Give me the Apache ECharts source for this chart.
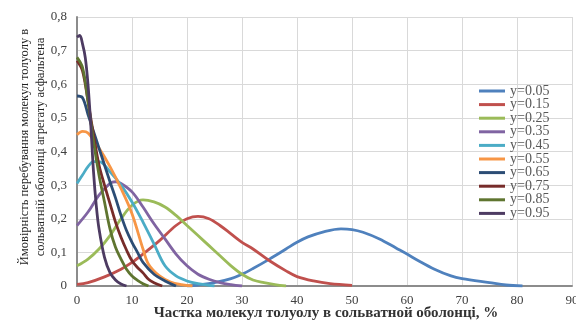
<!DOCTYPE html>
<html>
<head>
<meta charset="utf-8">
<script src="https://cdn.jsdelivr.net/npm/echarts@6/dist/echarts.min.js"></script>
<style>
html,body{margin:0;padding:0;background:#fff;}
#chart{width:576px;height:322px;}
</style>
</head>
<body>
<div id="chart"></div>
<script>
// Legend / series names
const seriesNames = ['y=0.05','y=0.15','y=0.25','y=0.35','y=0.45','y=0.55','y=0.65','y=0.75','y=0.85','y=0.95'];
const seriesColors = ['#4F81BD','#C0504D','#9BBB59','#8064A2','#4BACC6','#F79646','#2C4D75','#772C2A','#5F7530','#4D3B62'];

// x = share of toluene molecules (%), p = probability
const x005 = [20,22,25,28,30,32,35,38,40,42,45,48,50,52,55,58,60,62,65,68,70,75,78,81];
const p005 = [0,0.003,0.01,0.022,0.035,0.052,0.08,0.11,0.13,0.146,0.162,0.17,0.168,0.16,0.14,0.113,0.095,0.076,0.05,0.03,0.022,0.01,0.003,0];

const x015 = [0,2,5,8,10,12,15,18,20,22,24,26,28,30,32,35,38,40,43,46,50];
const p015 = [0.005,0.01,0.027,0.05,0.07,0.095,0.135,0.18,0.2,0.207,0.2,0.18,0.155,0.13,0.11,0.075,0.045,0.028,0.015,0.007,0.002];

const x025 = [0,2,4,6,8,10,12,14,16,18,20,22,24,26,28,30,32,34,36,38];
const p025 = [0.06,0.08,0.11,0.15,0.2,0.24,0.256,0.25,0.235,0.21,0.18,0.15,0.12,0.09,0.06,0.035,0.018,0.01,0.004,0];

const x035 = [0,2,4,6,7,8,10,12,14,16,18,20,22,24,26,28,30];
const p035 = [0.18,0.22,0.27,0.305,0.31,0.305,0.28,0.235,0.185,0.14,0.095,0.06,0.035,0.02,0.01,0.004,0];

const x045 = [0,1,2,3,4,6,8,10,12,14,16,18,20,22,25];
const p045 = [0.305,0.33,0.355,0.37,0.37,0.34,0.3,0.25,0.19,0.125,0.06,0.03,0.015,0.007,0];

const x055 = [0,1,2,4,6,8,10,12,13,15,17,19,21];
const p055 = [0.45,0.46,0.455,0.41,0.355,0.29,0.215,0.11,0.065,0.03,0.012,0.004,0];

const x065 = [0,1,2,3,4,5,6,7,8,9,10,11,12,14,16,18];
const p065 = [0.565,0.56,0.51,0.46,0.41,0.36,0.31,0.262,0.21,0.165,0.13,0.1,0.07,0.035,0.015,0];

const x075 = [0,1,2,3,4,5,6,7,8,9,10,11,12,13,14,15.5];
const p075 = [0.67,0.64,0.55,0.45,0.36,0.3,0.245,0.19,0.145,0.107,0.075,0.055,0.039,0.02,0.01,0];

const x085 = [0,1,2,3,4,5,6,7,8,9,10,11,12,13];
const p085 = [0.68,0.65,0.55,0.43,0.33,0.25,0.17,0.115,0.08,0.05,0.03,0.017,0.007,0];

const x095 = [0,0.5,1,1.5,2,2.5,3,3.5,4,5,6,7,8,9];
const p095 = [0.74,0.745,0.72,0.68,0.6,0.48,0.34,0.24,0.17,0.085,0.04,0.018,0.006,0];

const xList = [x005,x015,x025,x035,x045,x055,x065,x075,x085,x095];
const pList = [p005,p015,p025,p035,p045,p055,p065,p075,p085,p095];

const xTitle = 'Частка молекул толуолу в сольватной оболонці, %';
const yTitle = 'Ймовірність перебування молекул толуолу в\nсольватній оболонці агрегату асфальтена';

const serif = 'Liberation Serif, Times New Roman, serif';

const series = seriesNames.map((name, i) => ({
  name: name,
  type: 'line',
  smooth: 0.35,
  showSymbol: false,
  symbol: 'none',
  lineStyle: { width: 2.8, color: seriesColors[i] },
  itemStyle: { color: seriesColors[i] },
  data: xList[i].map((x, j) => [x, pList[i][j]])
}));

const chart = echarts.init(document.getElementById('chart'), null, { renderer: 'canvas' });
chart.setOption({
  animation: false,
  backgroundColor: '#fff',
  grid: { left: 77, right: 4, top: 17, bottom: 36, containLabel: false, outerBoundsMode: 'none' },
  xAxis: {
    type: 'value', min: 0, max: 90, interval: 10,
    name: xTitle, nameLocation: 'middle', nameGap: 19.5, nameMoveOverlap: false,
    nameTextStyle: { fontFamily: serif, fontSize: 15, fontWeight: 'bold', color: '#333', padding: [0,0,0,3] },
    axisLine: { show: true, lineStyle: { color: '#8c8c8c', width: 2 } },
    axisTick: { show: false },
    axisLabel: { fontFamily: serif, fontSize: 13, color: '#404040', margin: 8 },
    splitLine: { show: true, lineStyle: { color: '#d9d9d9', width: 1 } }
  },
  yAxis: {
    type: 'value', min: 0, max: 0.8, interval: 0.1,
    name: yTitle, nameLocation: 'middle', nameGap: 28, nameRotate: 90, nameMoveOverlap: false,
    nameTextStyle: { fontFamily: serif, fontSize: 12.5, color: '#222', lineHeight: 16, padding: [0,0,0,9] },
    axisLine: { show: true, lineStyle: { color: '#8c8c8c', width: 2 } },
    axisTick: { show: false },
    axisLabel: { fontFamily: serif, fontSize: 13, color: '#404040', margin: 10,
      formatter: v => (Math.round(v * 10) / 10).toString().replace('.', ',') },
    splitLine: { show: true, lineStyle: { color: '#d9d9d9', width: 1 } }
  },
  legend: {
    orient: 'vertical', left: 474, top: 79,
    icon: 'rect', itemWidth: 26, itemHeight: 3, itemGap: -0.4,
    selectedMode: false,
    textStyle: { fontFamily: serif, fontSize: 14, color: '#595959', lineHeight: 13 },
    data: seriesNames
  },
  series: series
});
</script>
</body>
</html>
